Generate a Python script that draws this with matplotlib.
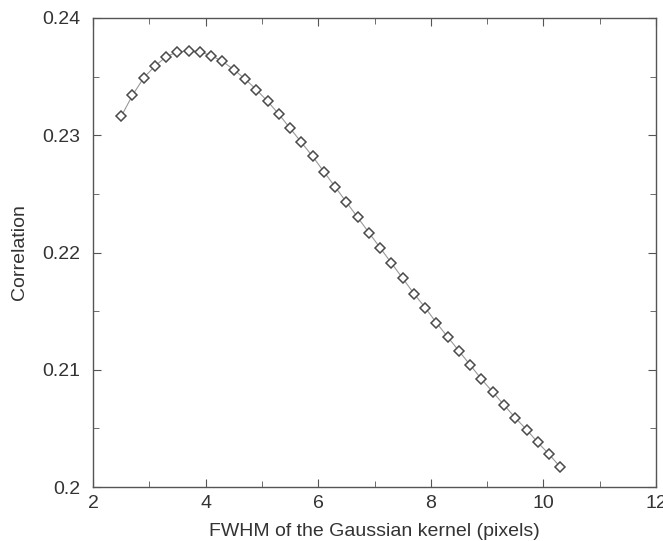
import matplotlib
matplotlib.use("Agg")
import matplotlib.pyplot as plt
from matplotlib.ticker import MultipleLocator

plt.rcParams['font.family'] = ['Liberation Sans', 'DejaVu Sans']

# FWHM of the Gaussian kernel (pixels)
fwhm = [2.5, 2.7, 2.9, 3.1, 3.3, 3.5, 3.7, 3.9, 4.1, 4.3,
        4.5, 4.7, 4.9, 5.1, 5.3, 5.5, 5.7, 5.9, 6.1, 6.3,
        6.5, 6.7, 6.9, 7.1, 7.3, 7.5, 7.7, 7.9, 8.1, 8.3,
        8.5, 8.7, 8.9, 9.1, 9.3, 9.5, 9.7, 9.9, 10.1, 10.3]
correlation = [0.2316, 0.2334, 0.2349, 0.2359, 0.2367, 0.2371, 0.2372, 0.2371, 0.2368, 0.2363,
               0.2356, 0.2348, 0.2339, 0.2329, 0.2318, 0.2306, 0.2294, 0.2282, 0.2269, 0.2256,
               0.2243, 0.2230, 0.2217, 0.2204, 0.2191, 0.2178, 0.2165, 0.2153, 0.2140, 0.2128,
               0.2116, 0.2104, 0.2092, 0.2081, 0.2070, 0.2059, 0.2049, 0.2038, 0.2028, 0.2017]
yticks = [0.2, 0.21, 0.22, 0.23, 0.24]
ytick_labels = ['0.2', '0.21', '0.22', '0.23', '0.24']

fig = plt.figure(figsize=(6.63, 5.41), dpi=100)
ax = fig.add_axes([93 / 663, 54 / 541, 563 / 663, 469 / 541])

ax.plot(fwhm, correlation, color='#999999', lw=0.8, marker='D', markersize=5.5,
        markerfacecolor='white', markeredgecolor='#4a4a4a', markeredgewidth=1.1)

ax.set_xlim(2, 12)
ax.set_ylim(0.2, 0.24)
ax.xaxis.set_major_locator(MultipleLocator(2))
ax.xaxis.set_minor_locator(MultipleLocator(1))
ax.yaxis.set_minor_locator(MultipleLocator(0.005))
ax.set_yticks(yticks)
ax.set_yticklabels(ytick_labels)

ax.tick_params(which='both', direction='in', top=True, right=True,
               colors='#555555', labelcolor='#333333', labelsize=14)
ax.tick_params(which='major', length=6)
ax.tick_params(which='minor', length=4)
ax.tick_params(axis='y', which='major', pad=9)
ax.tick_params(axis='x', which='major', pad=6)
for s in ax.spines.values():
    s.set_color('#555555')
    s.set_linewidth(1.0)

ax.set_xlabel('FWHM of the Gaussian kernel (pixels)', fontsize=14, color='#333333', labelpad=7.5)
ax.set_ylabel('Correlation', fontsize=14, color='#333333', labelpad=10)

fig.savefig('out.png', dpi=100)
